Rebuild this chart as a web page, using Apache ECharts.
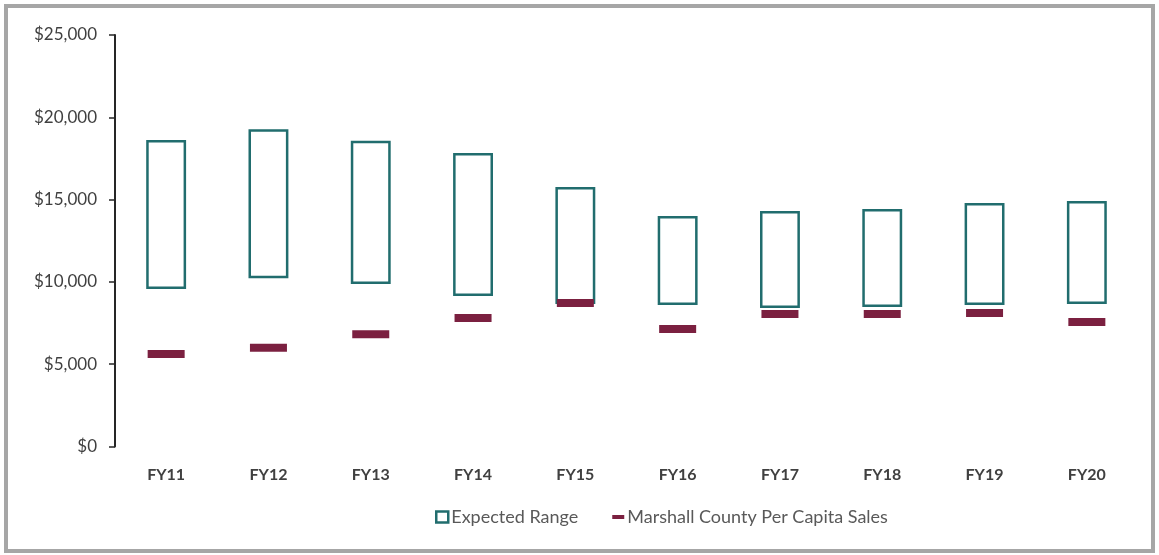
<!DOCTYPE html>
<html lang="en">
<head>
    <meta charset="UTF-8"/>
    <title>Expected Range vs Marshall County</title>
    <script src="https://cdn.jsdelivr.net/npm/echarts@6/dist/echarts.min.js"></script>
    <style>
        body { margin: 0; background: #fff; }
        #frame { position: absolute; left: 4px; top: 4px; width: 1143px; height: 541px; border: 4px solid #a6a6a6; }
        #main { position: absolute; left: 0; top: 0; width: 1159px; height: 555px; }
    </style>
</head>
<body>
<div id="frame"></div>
<div id="main"></div>
<script type="text/javascript">
    // data
    var years = ["FY11","FY12","FY13","FY14","FY15","FY16","FY17","FY18","FY19","FY20"];
    var rangeLow  = [9570, 10220, 9870, 9140, 8660, 8600, 8410, 8470, 8600, 8660];
    var rangeHigh = [18620, 19270, 18580, 17830, 15770, 14000, 14310, 14430, 14790, 14910];
    var countySales = [5620, 6000, 6820, 7810, 8720, 7140, 8050, 8050, 8110, 7560];
    var yTicks = [0, 5000, 10000, 15000, 20000, 25000];

    var teal = '#216d6e';
    var maroon = '#7b2040';

    var rangeSpan = rangeHigh.map(function (h, i) { return h - rangeLow[i]; });

    var myChart = echarts.init(document.getElementById('main'));

    var option = {
        animation: false,
        textStyle: { fontFamily: 'Lato, "Open Sans", sans-serif' },
        grid: { left: 115, right: 21, top: 35, bottom: 108.5 },
        legend: {
            bottom: 24,
            left: 430,
            itemGap: 34,
            itemWidth: 12,
            itemHeight: 11,
            textStyle: { color: '#595959', fontSize: 18, padding: [0, 0, 0, -2] },
            data: [
                { name: 'Expected Range', icon: 'rect',
                  itemStyle: { color: '#fff', borderColor: teal, borderWidth: 2.5 } },
                { name: 'Marshall County Per Capita Sales', icon: 'path://M0,0H12V4H0Z',
                  itemStyle: { color: maroon } }
            ]
        },
        xAxis: {
            type: 'category',
            data: years,
            axisLine: { show: false },
            axisTick: { show: false },
            axisLabel: { color: '#404040', fontSize: 16, fontWeight: 'bold', margin: 20 }
        },
        yAxis: {
            type: 'value',
            min: yTicks[0],
            max: yTicks[yTicks.length - 1],
            interval: 5000,
            axisLine: { show: true, lineStyle: { color: '#262626', width: 2 } },
            axisTick: { show: true, length: 6, lineStyle: { color: '#262626', width: 1.5 } },
            splitLine: { show: false },
            axisLabel: {
                color: '#404040', fontSize: 17, margin: 18,
                formatter: function (v) { return '$' + v.toLocaleString('en-US'); }
            }
        },
        series: [
            {
                name: 'base',
                type: 'bar',
                stack: 'range',
                barWidth: '39%',
                itemStyle: { color: 'transparent' },
                data: rangeLow
            },
            {
                name: 'Expected Range',
                type: 'bar',
                stack: 'range',
                barWidth: '39%',
                itemStyle: { color: 'rgba(255,255,255,0)', borderColor: teal, borderWidth: 2.5 },
                data: rangeSpan
            },
            {
                name: 'Marshall County Per Capita Sales',
                type: 'scatter',
                symbol: 'rect',
                symbolSize: [37, 8],
                itemStyle: { color: maroon, opacity: 1 },
                z: 5,
                data: countySales
            }
        ]
    };

    myChart.setOption(option);
</script>
</body>
</html>
